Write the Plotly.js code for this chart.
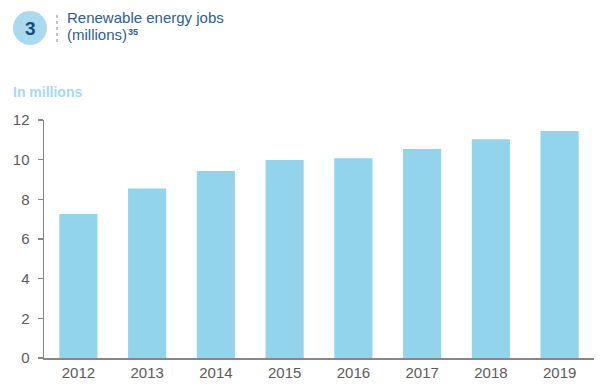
<!DOCTYPE html>
<html>
<head>
<meta charset="utf-8">
<script src="https://cdn.plot.ly/plotly-3.0.1.min.js"></script>
<style>html,body{margin:0;padding:0;background:#fff;}#chart{width:600px;height:390px;}</style>
</head>
<body>
<div id="chart"></div>
<script>
var years = ['2012','2013','2014','2015','2016','2017','2018','2019'];
var jobs = [7.26, 8.54, 9.43, 9.98, 10.07, 10.54, 11.03, 11.45];
var yTicks = [0, 2, 4, 6, 8, 10, 12];

var axisColor = '#8c8480';
var tickFont = {family: 'Liberation Sans, Arial, sans-serif', size: 15, color: '#5a5a5a'};

var trace = {
  type: 'bar',
  x: years,
  y: jobs,
  marker: {color: '#92d4eb'},
  hoverinfo: 'x+y'
};

// pixel helpers for paper coordinates (plot area: x 44..594, y 120..358)
function px(x){ return (x - 44) / 550; }
function py(y){ return (358 - y) / 238; }

var layout = {
  width: 600, height: 390,
  margin: {l: 44, r: 6, t: 120, b: 32},
  paper_bgcolor: '#ffffff', plot_bgcolor: '#ffffff',
  bargap: 0.445,
  showlegend: false,
  xaxis: {
    type: 'category',
    range: [-0.5, 7.5],
    showline: true, linecolor: axisColor, linewidth: 1.5,
    ticks: '', showgrid: false, zeroline: false,
    tickfont: tickFont, fixedrange: true
  },
  yaxis: {
    range: [0, 12],
    tickvals: yTicks,
    showline: true, linecolor: axisColor, linewidth: 1.5,
    ticks: 'outside', ticklen: 5, tickcolor: axisColor, tickwidth: 1.5,
    ticklabelstandoff: 5,
    showgrid: false, zeroline: false,
    tickfont: tickFont, fixedrange: true
  },
  shapes: [
    {type: 'circle', xref: 'paper', yref: 'paper',
     x0: px(13), x1: px(47), y0: py(45), y1: py(11),
     fillcolor: '#a9daee', line: {width: 0}},
    {type: 'line', xref: 'paper', yref: 'paper',
     x0: px(57), x1: px(57), y0: py(42), y1: py(13),
     line: {color: '#8a8a8a', width: 1, dash: 'dot'}}
  ],
  annotations: [
    {text: '<b>3</b>', xref: 'paper', yref: 'paper', x: px(30), y: py(28.5),
     xanchor: 'center', yanchor: 'middle', showarrow: false,
     font: {family: 'Liberation Sans, Arial, sans-serif', size: 19, color: '#1b4a7a'}},
    {text: 'Renewable energy jobs', xref: 'paper', yref: 'paper', x: px(66), y: py(17),
     xanchor: 'left', yanchor: 'middle', showarrow: false, borderpad: 0,
     font: {family: 'Liberation Sans, Arial, sans-serif', size: 15, color: '#2a6094'}},
    {text: '(millions)', xref: 'paper', yref: 'paper', x: px(66), y: py(35),
     xanchor: 'left', yanchor: 'middle', showarrow: false, borderpad: 0,
     font: {family: 'Liberation Sans, Arial, sans-serif', size: 15, color: '#2a6094'}},
    {text: '<b>35</b>', xref: 'paper', yref: 'paper', x: px(126.5), y: py(32),
     xanchor: 'left', yanchor: 'middle', showarrow: false, borderpad: 0,
     font: {family: 'Liberation Sans, Arial, sans-serif', size: 9, color: '#2a6094'}},
    {text: '<b>In millions</b>', xref: 'paper', yref: 'paper', x: px(11), y: py(92),
     xanchor: 'left', yanchor: 'middle', showarrow: false,
     font: {family: 'Liberation Sans, Arial, sans-serif', size: 14, color: '#a6d9ee'}}
  ]
};

Plotly.newPlot('chart', [trace], layout, {displayModeBar: false, staticPlot: true});
</script>
</body>
</html>
